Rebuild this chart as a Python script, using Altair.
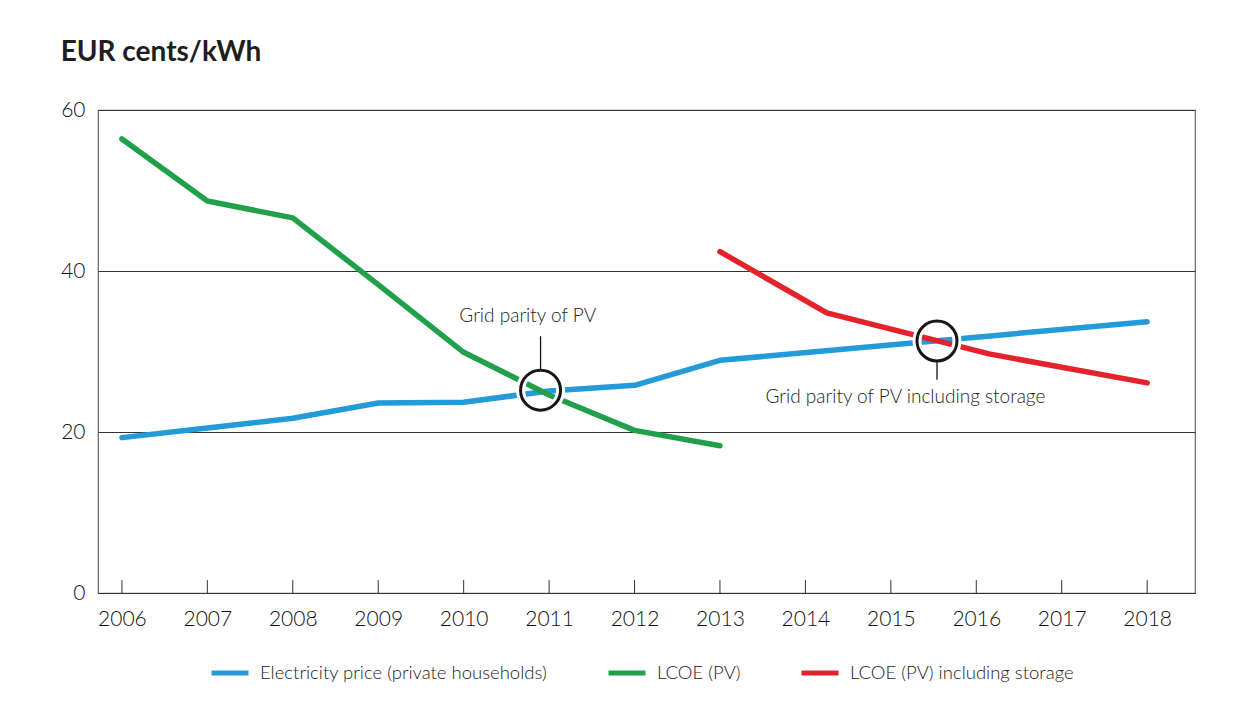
import altair as alt
import pandas as pd

# ---- data ----
price_years = [2006, 2007, 2008, 2009, 2010, 2011, 2012, 2013, 2018]
price_vals = [19.3, 20.5, 21.7, 23.6, 23.7, 25.1, 25.8, 28.9, 33.7]

pv_years = [2006, 2007, 2008, 2009, 2010, 2011, 2012, 2013]
pv_vals = [56.4, 48.7, 46.6, 38.3, 29.9, 24.6, 20.2, 18.3]

st_years = [2013, 2014.25, 2016.15, 2018]
st_vals = [42.4, 34.8, 29.7, 26.1]

series_names = ["Electricity price (private households)", "LCOE (PV)", "LCOE (PV) including storage"]
series_colors = ["#239bd8", "#21a04b", "#e3222b"]

tick_years = list(range(2006, 2019))
y_ticks = [0, 20, 40, 60]

marker_x = [2010.9, 2015.54]
marker_y = [25.2, 31.3]

leader_x = [2010.9, 2015.54]
leader_y1 = [27.7, 28.7]
leader_y2 = [31.9, 26.5]

note_text = ["Grid parity of PV", "Grid parity of PV including storage"]
note_x = [2010.75, 2015.17]
note_y = [33.7, 23.6]

# ---- tables ----
rows = []
for yr, v in zip(price_years, price_vals):
    rows.append({"series": series_names[0], "year": yr, "value": v})
for yr, v in zip(pv_years, pv_vals):
    rows.append({"series": series_names[1], "year": yr, "value": v})
for yr, v in zip(st_years, st_vals):
    rows.append({"series": series_names[2], "year": yr, "value": v})
lines_df = pd.DataFrame(rows)

ticks_df = pd.DataFrame({"year": tick_years, "y0": [0] * len(tick_years), "y1": [1.6] * len(tick_years)})
markers_df = pd.DataFrame({"x": marker_x, "y": marker_y})
leaders_df = pd.DataFrame({"x": leader_x, "y1": leader_y1, "y2": leader_y2})
notes_df = pd.DataFrame({"text": note_text, "x": note_x, "y": note_y})

xscale = alt.Scale(domain=[2005.72, 2018.56], nice=False, zero=False)
yscale = alt.Scale(domain=[0, 60], nice=False)

x_axis = alt.Axis(values=tick_years, format="d", ticks=False, grid=False, domain=True,
                  domainColor="#333", domainWidth=1.2, labelPadding=15, labelFontSize=21,
                  labelFontWeight=300, labelColor="#111", title=None)
y_axis = alt.Axis(values=y_ticks, ticks=False, domain=False, grid=True, gridColor="#333",
                  gridWidth=1, labelPadding=13, labelFontSize=21, labelFontWeight=300,
                  labelColor="#111", title=None)

lines = alt.Chart(lines_df).mark_line(strokeWidth=5.5, strokeCap="round", strokeJoin="round").encode(
    x=alt.X("year:Q", scale=xscale, axis=x_axis),
    y=alt.Y("value:Q", scale=yscale, axis=y_axis),
    color=alt.Color("series:N",
                    scale=alt.Scale(domain=series_names, range=series_colors),
                    sort=series_names,
                    legend=alt.Legend(title=None, orient="none", direction="horizontal",
                                      legendX=111, legendY=542, symbolType="stroke",
                                      symbolSize=1369, symbolStrokeWidth=5,
                                      labelFontSize=18.5, labelFontWeight=300,
                                      labelColor="#222", labelLimit=500,
                                      labelOffset=9, columnPadding=50)),
    detail="series:N",
)

ticks = alt.Chart(ticks_df).mark_rule(color="#333", strokeWidth=1).encode(
    x=alt.X("year:Q", scale=xscale),
    y=alt.Y("y0:Q", scale=yscale),
    y2="y1:Q",
)

halo = alt.Chart(markers_df).mark_point(shape="circle", size=1600, filled=False,
                                        stroke="white", strokeWidth=9, opacity=1).encode(
    x=alt.X("x:Q", scale=xscale), y=alt.Y("y:Q", scale=yscale))
ring = alt.Chart(markers_df).mark_point(shape="circle", size=1600, filled=False,
                                        stroke="#161616", strokeWidth=3, opacity=1).encode(
    x=alt.X("x:Q", scale=xscale), y=alt.Y("y:Q", scale=yscale))

leaders = alt.Chart(leaders_df).mark_rule(color="#161616", strokeWidth=1.3).encode(
    x=alt.X("x:Q", scale=xscale), y=alt.Y("y1:Q", scale=yscale), y2="y2:Q")

notes = alt.Chart(notes_df).mark_text(fontSize=19, fontWeight=300, align="center",
                                      baseline="alphabetic", color="#222").encode(
    x=alt.X("x:Q", scale=xscale), y=alt.Y("y:Q", scale=yscale), text="text:N")

chart = alt.layer(ticks, lines, halo, ring, leaders, notes).properties(
    width=1097, height=483,
    autosize=alt.AutoSizeParams(type="none"),
    padding={"left": 90, "top": 102, "right": 38, "bottom": 108},
    title=alt.TitleParams("EUR cents/kWh", anchor="start", fontSize=28, fontWeight="bold",
                          color="#1e1e1e", offset=32, font="Lato"),
).configure(font="Lato").configure_view(stroke="#666", strokeWidth=1.2)

chart.save("out.html", embed_options={"renderer": "svg", "actions": False})
